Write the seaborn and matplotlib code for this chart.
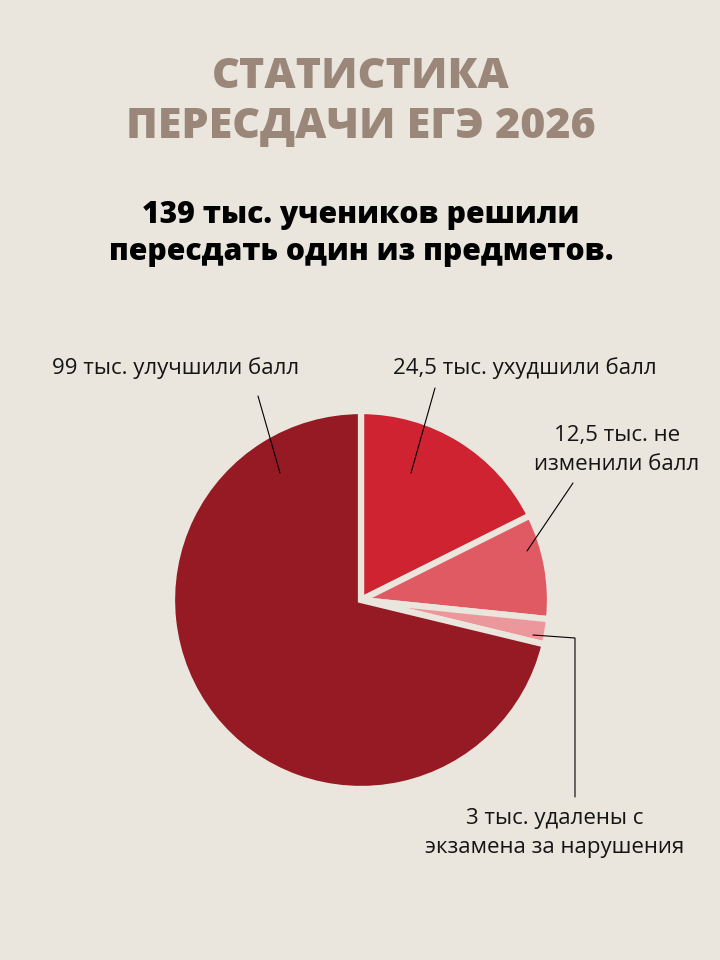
import matplotlib
matplotlib.use("Agg")
import matplotlib.pyplot as plt
import seaborn as sns

# ---- data ----
categories = ["24,5 тыс. ухудшили балл", "12,5 тыс. не\nизменили балл",
              "3 тыс. удалены с\nэкзамена за нарушения", "99 тыс. улучшили балл"]
values = [24.5, 12.5, 3, 99]
colors = ["#CF2331", "#E05A64", "#EC979B", "#951A24"]
title_lines = ["СТАТИСТИКА", "ПЕРЕСДАЧИ ЕГЭ 2026"]
subtitle_lines = ["139 тыс. учеников решили", "пересдать один из предметов."]

BG = "#EAE6DD"
sns.set_theme(style="white", rc={"figure.facecolor": BG, "axes.facecolor": BG})
plt.rcParams["font.family"] = ["Open Sans", "DejaVu Sans"]

W, H = 720, 960
fig = plt.figure(figsize=(7.2, 9.6), dpi=100)
ax = fig.add_axes([0, 0, 1, 1])

def Y(y):
    return H - y

cx, cy, R = 361, 600, 189
wedges, _ = ax.pie(values, colors=colors, startangle=90, counterclock=False,
                   center=(cx, Y(cy)), radius=R,
                   wedgeprops=dict(edgecolor=BG, linewidth=4.5, joinstyle="miter"))
ax.set_xlim(0, W)
ax.set_ylim(0, H)
ax.set_aspect("equal")
ax.axis("off")

# titles
tcol = "#9B877A"
ax.text(361, Y(77), title_lines[0], ha="center", va="center", fontsize=31,
        fontweight="heavy", color=tcol)
ax.text(361, Y(127), title_lines[1], ha="center", va="center", fontsize=31,
        fontweight="heavy", color=tcol)
ax.text(361, Y(215), subtitle_lines[0], ha="center", va="center", fontsize=21.7,
        fontweight="heavy", color="black")
ax.text(361, Y(252), subtitle_lines[1], ha="center", va="center", fontsize=21.7,
        fontweight="heavy", color="black")

lfs = 16
tc = "#151515"
# labels
ax.text(176, Y(368), categories[3], ha="center", va="center", fontsize=lfs, color=tc)
ax.text(525, Y(368), categories[0], ha="center", va="center", fontsize=lfs, color=tc)
ax.text(617, Y(450), categories[1], ha="center", va="center", fontsize=lfs, color=tc,
        linespacing=1.45)
ax.text(555, Y(833), categories[2], ha="center", va="center", fontsize=lfs, color=tc,
        linespacing=1.45)

# leader lines
lk = dict(color="black", lw=0.8)
ax.plot([258, 280], [Y(396), Y(473)], **lk)
ax.plot([435, 411], [Y(388), Y(473)], **lk)
ax.plot([573, 527], [Y(483), Y(551)], **lk)
ax.plot([533, 575, 575], [Y(635), Y(638), Y(797)], **lk)

fig.savefig("out.png", dpi=100, facecolor=BG)
